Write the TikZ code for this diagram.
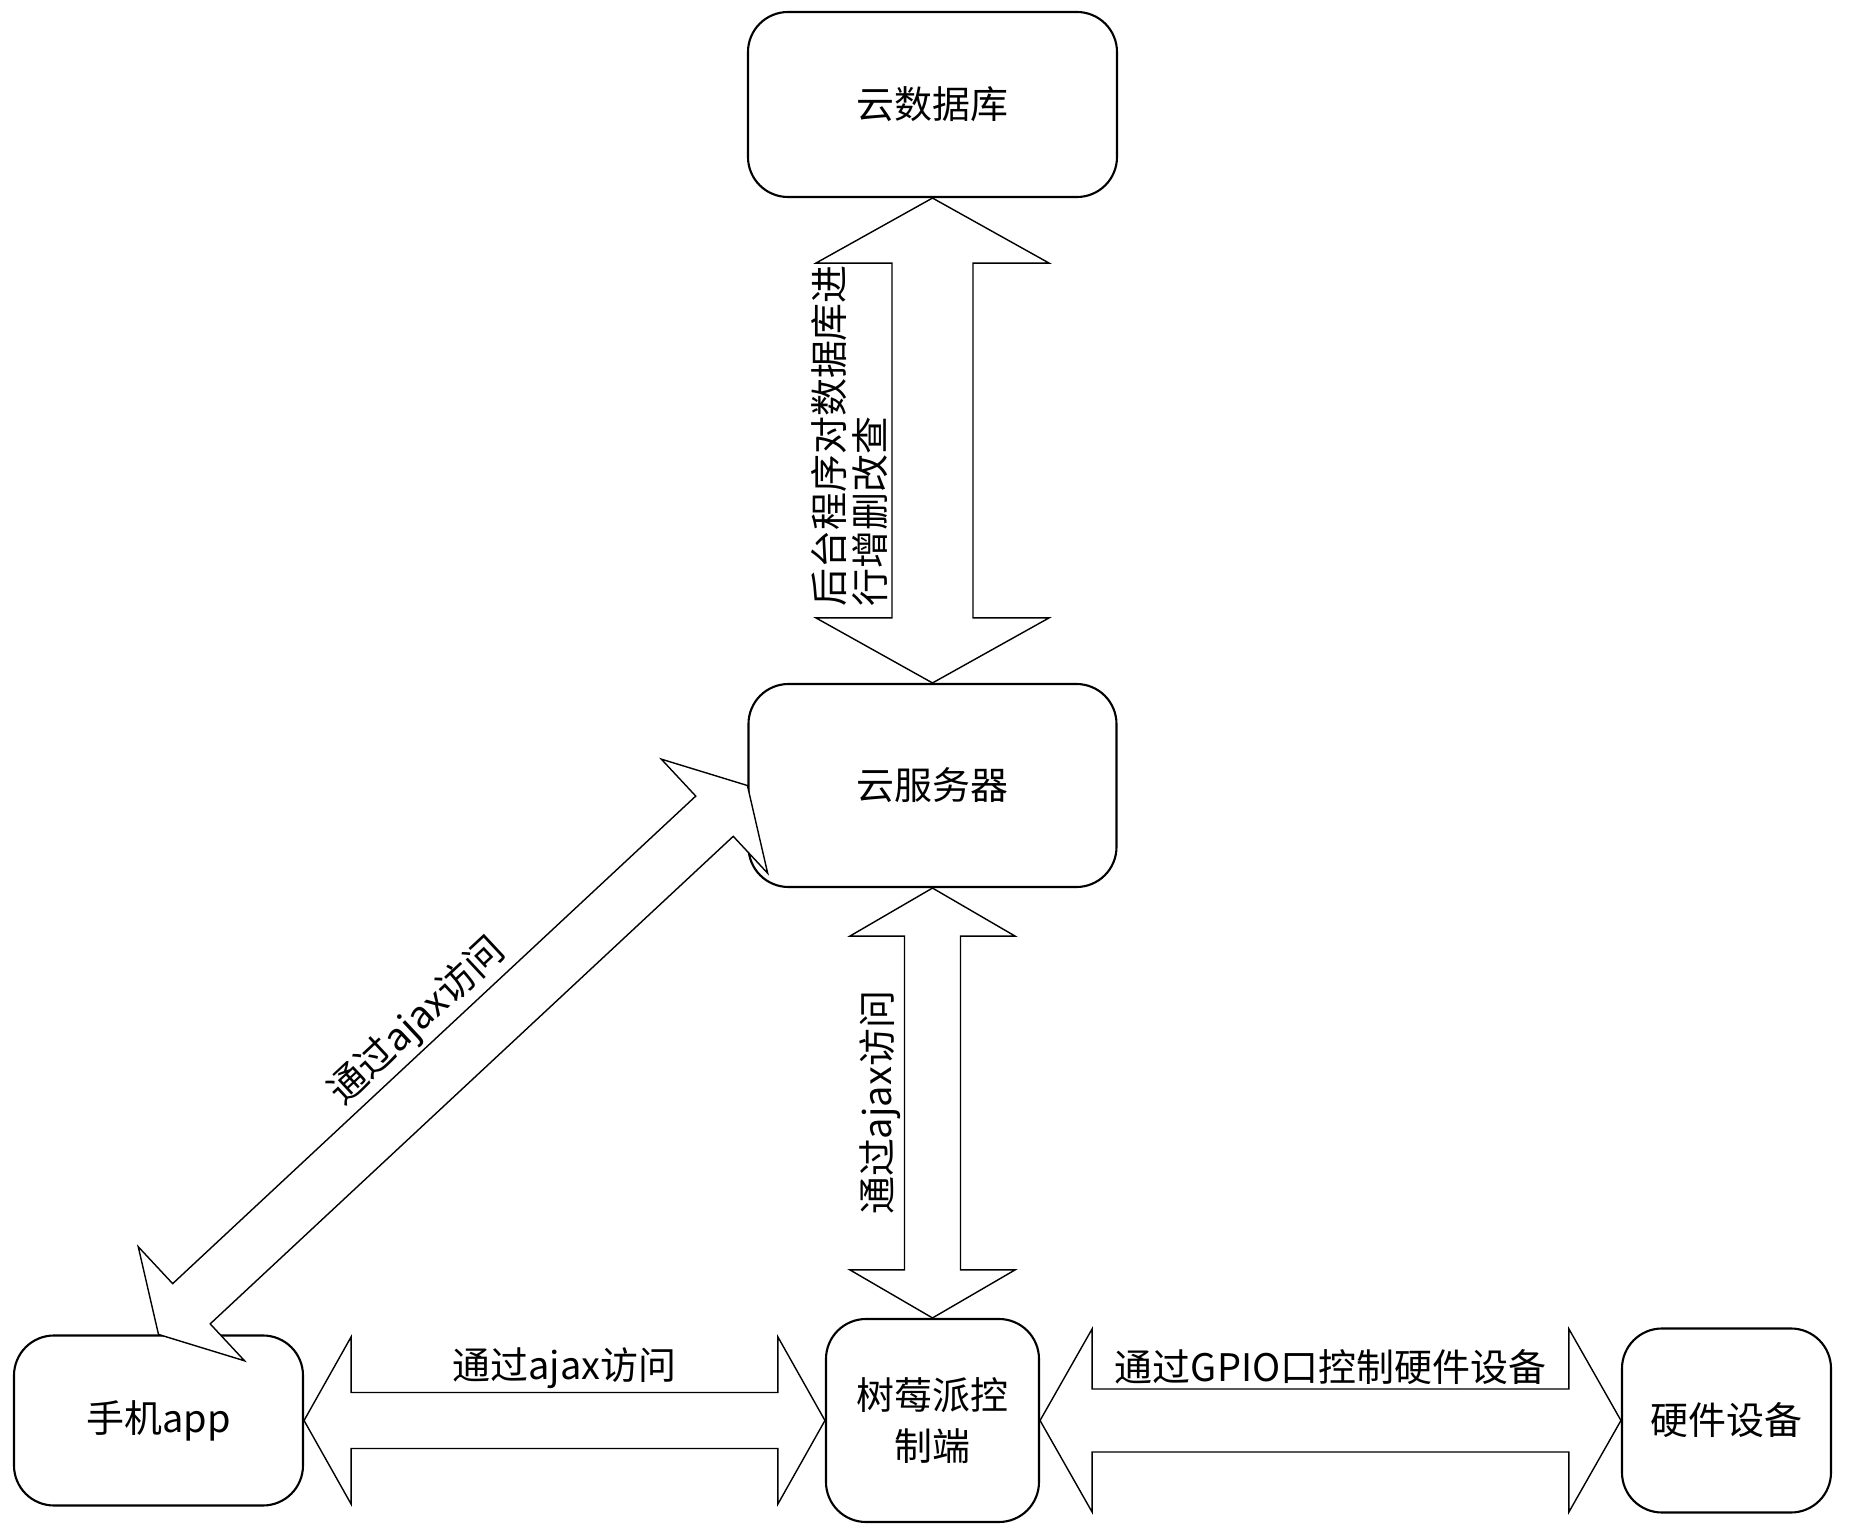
\documentclass[tikz,border=0pt]{standalone}
\usepackage{fontspec}
\setmainfont{Noto Sans CJK SC}
\usetikzlibrary{positioning,calc}

\tikzstyle{boxstyle} = [rectangle, 
rounded corners=0.4cm, 
text centered,
align=center,
draw=black, 
line width=0.6pt,
fill=white,
font=\fontsize{10.8}{14.5}\selectfont]
\tikzstyle{blockstyle} = [draw=black, line width=0.4pt, fill=white, line join=miter]
\tikzstyle{labelstyle} = [inner sep=1pt, font=\fontsize{10.8}{11.7}\selectfont]

% double block arrow: from, to, shaft half width, head half width, head length
\newcommand{\dblarrow}[5]{%
\path (#1); \pgfgetlastxy{\arrxa}{\arrya}%
\path (#2); \pgfgetlastxy{\arrxb}{\arryb}%
\pgfmathsetmacro{\arrlen}{veclen(\arrxb-\arrxa,\arryb-\arrya)/28.45274}%
\pgfmathsetmacro{\arrang}{atan2(\arryb-\arrya,\arrxb-\arrxa)}%
\begin{scope}[shift={(#1)}, rotate=\arrang]
\draw [blockstyle] (0,0) -- (#5,#4) -- (#5,#3) -- (\arrlen-#5,#3) -- (\arrlen-#5,#4) -- (\arrlen,0)
  -- (\arrlen-#5,-#4) -- (\arrlen-#5,-#3) -- (#5,-#3) -- (#5,-#4) -- cycle;
\end{scope}}

\begin{document}
\begin{tikzpicture}[node distance=1cm]
\useasboundingbox (0,0) rectangle (18.49,-15.39);

\node (db) [boxstyle, minimum width=3.69cm, minimum height=1.85cm] at (9.325,-1.045) {云数据库};

\node (server) [boxstyle, minimum width=3.68cm, minimum height=2.03cm, below of=db, yshift=-5.81cm] {云服务器};

\node (rasp) [boxstyle, minimum width=2.13cm, minimum height=2.03cm, below of=server, yshift=-5.35cm] {树莓派控\\制端};

\node (app) [boxstyle, minimum width=2.89cm, minimum height=1.70cm, left of=rasp, xshift=-6.74cm] {手机app};

\node (hw) [boxstyle, minimum width=2.09cm, minimum height=1.84cm, right of=rasp, xshift=6.94cm] {硬件设备};

\dblarrow{db.south}{server.north}{0.405}{1.165}{0.65}
\dblarrow{server.south}{rasp.north}{0.28}{0.825}{0.48}
\dblarrow{app.east}{rasp.west}{0.28}{0.835}{0.47}
\dblarrow{rasp.east}{hw.west}{0.315}{0.915}{0.52}
\dblarrow{app.north}{server.west}{0.275}{0.78}{0.45}

\node (dblabel) [labelstyle, rotate=90, anchor=south west, align=left] at ($(server.north)+(-0.405,0.72)$) {后台程序对数据库进\\行增删改查};
\node (ajaxvert) [labelstyle, rotate=90, anchor=south] at ($(server.south)!0.5!(rasp.north)+(-0.28,0)$) {通过ajax访问};
\node (ajaxdiag) [labelstyle, rotate=43, anchor=south] at ($(app.north)!0.5!(server.west)+(133:0.275)$) {通过ajax访问};
\node (ajaxhoriz) [labelstyle, anchor=south] at ($(app.east)!0.5!(rasp.west)+(0,0.28)$) {通过ajax访问};
\node (gpiolabel) [labelstyle, anchor=south] at ($(rasp.east)!0.5!(hw.west)+(0,0.315)$) {通过GPIO口控制硬件设备};
\end{tikzpicture}
\end{document}
